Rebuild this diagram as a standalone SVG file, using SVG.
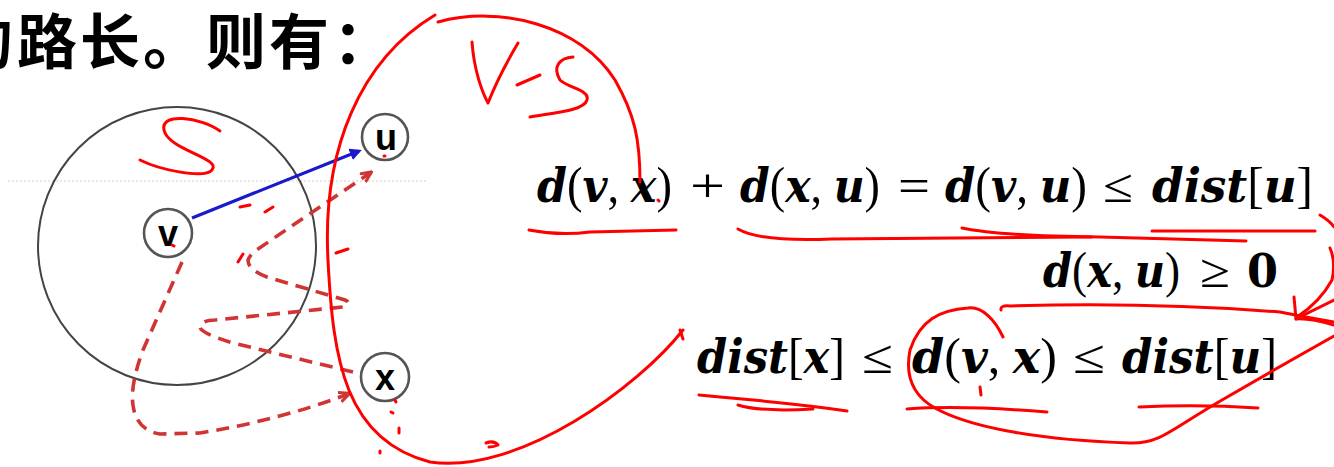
<svg xmlns="http://www.w3.org/2000/svg" width="1334" height="467" viewBox="0 0 1334 467">
<style>
.title{font-family:"Noto Sans CJK SC","Noto Sans",sans-serif;font-weight:700;font-size:60px;fill:#000}
.node circle{fill:#fff;stroke:#555;stroke-width:2.6}
.node text{font-family:"Liberation Sans",Arial,sans-serif;font-weight:700;font-size:36px;fill:#000;text-anchor:middle}
.dash{fill:none;stroke:#d03434;stroke-width:3.6;stroke-dasharray:13 8}
.ink{fill:none;stroke:#ff0000;stroke-width:3;stroke-linecap:round;stroke-linejoin:round}
.m{font-family:"DejaVu Serif","Liberation Serif",serif;font-size:46px;fill:#000;font-style:italic;font-weight:700}
.u{font-family:"Liberation Serif",serif;font-style:normal;font-weight:400;font-size:50px}
.num{font-style:normal}
.op{font-family:"Liberation Serif",serif;font-size:48px;fill:#000}
</style>
<defs>
<marker id="ab" markerWidth="12" markerHeight="12" refX="9" refY="6" orient="auto" markerUnits="userSpaceOnUse"><path d="M0,0 L12,6 L0,12 Z" fill="#1a1acc"/></marker>
<marker id="ar" markerWidth="12" markerHeight="12" refX="9" refY="6" orient="auto" markerUnits="userSpaceOnUse"><path d="M0,1 L11,6 L0,11" fill="none" stroke="#d03434" stroke-width="3"/></marker>
</defs>

<text class="title" x="-47 17 80 143 206 269 333" y="64">的路长。则有：</text>

<line x1="8" y1="181" x2="427" y2="181" stroke="#cfcfcf" stroke-width="1" stroke-dasharray="2 2"/>

<g id="set-S"><circle cx="177" cy="246" r="139" fill="none" stroke="#444" stroke-width="2"/></g>

<g id="connectors">
<line x1="192" y1="218" x2="359" y2="151" stroke="#1a1acc" stroke-width="3.2" marker-end="url(#ab)"/>
<path class="dash" d="M182,262 L143,350 Q130,385 133,405 Q136,430 160,434 L200,433 Q280,420 348,394" marker-end="url(#ar)"/>
<path class="dash" d="M353,372 L233,343 Q200,333 200,327 Q202,320 215,320 L343,307 Q352,303 345,300 L267,277 Q248,270 248,260 Q250,255 255,251 L370,173" marker-end="url(#ar)"/>
</g>

<g id="node-v" class="node"><circle cx="168" cy="233" r="24"/><text x="168" y="246">v</text></g>
<g id="node-u" class="node"><circle cx="385" cy="137" r="23"/><text x="386" y="150">u</text></g>
<g id="node-x" class="node"><circle cx="385" cy="377" r="24"/><text x="385" y="390">x</text></g>

<g id="formula-1">
<text class="m" x="537" y="202" textLength="135" lengthAdjust="spacingAndGlyphs">d<tspan class="u">(</tspan>v<tspan class="u">, </tspan>x<tspan class="u">)</tspan></text>
<text class="op" x="690" y="202" textLength="35" lengthAdjust="spacingAndGlyphs">+</text>
<text class="m" x="740" y="202" textLength="140" lengthAdjust="spacingAndGlyphs">d<tspan class="u">(</tspan>x<tspan class="u">, </tspan>u<tspan class="u">)</tspan></text>
<text class="op" x="898" y="202" textLength="32" lengthAdjust="spacingAndGlyphs">=</text>
<text class="m" x="945" y="202" textLength="142" lengthAdjust="spacingAndGlyphs">d<tspan class="u">(</tspan>v<tspan class="u">, </tspan>u<tspan class="u">)</tspan></text>
<text class="op" x="1103" y="202" textLength="30" lengthAdjust="spacingAndGlyphs">≤</text>
<text class="m" x="1152" y="202" textLength="161" lengthAdjust="spacingAndGlyphs">dist<tspan class="u">[</tspan>u<tspan class="u">]</tspan></text>
</g>
<g id="formula-2">
<text class="m" x="1043" y="287" textLength="137" lengthAdjust="spacingAndGlyphs">d<tspan class="u">(</tspan>x<tspan class="u">, </tspan>u<tspan class="u">)</tspan></text>
<text class="op" x="1200" y="287" textLength="30" lengthAdjust="spacingAndGlyphs">≥</text>
<text class="m num" x="1247" y="287" textLength="31" lengthAdjust="spacingAndGlyphs">0</text>
</g>
<g id="formula-3">
<text class="m" x="697" y="373" textLength="148" lengthAdjust="spacingAndGlyphs">dist<tspan class="u">[</tspan>x<tspan class="u">]</tspan></text>
<text class="op" x="862" y="373" textLength="31" lengthAdjust="spacingAndGlyphs">≤</text>
<text class="m" x="912" y="373" textLength="145" lengthAdjust="spacingAndGlyphs">d<tspan class="u">(</tspan>v<tspan class="u">, </tspan>x<tspan class="u">)</tspan></text>
<text class="op" x="1073" y="373" textLength="32" lengthAdjust="spacingAndGlyphs">≤</text>
<text class="m" x="1122" y="373" textLength="155" lengthAdjust="spacingAndGlyphs">dist<tspan class="u">[</tspan>u<tspan class="u">]</tspan></text>
</g>

<g id="annotations">
<path class="ink" d="M220,131 C200,117 160,112 164,130 C168,150 222,158 212,170 C204,179 160,170 140,160"/>
<path class="ink" d="M435,15 C360,60 322,150 328,260 C333,360 345,440 430,462 C520,475 640,385 683,330"/>
<path class="ink" d="M438,22 C500,5 580,25 615,80 C635,115 640,140 640,182"/>
<path class="ink" d="M472,42 C474,70 482,92 488,103 C495,85 508,60 518,43"/>
<path class="ink" d="M517,85 L540,75"/>
<path class="ink" d="M573,57 C560,58 552,66 560,80 C568,88 590,90 587,100 C584,110 560,112 530,117"/>
<path class="ink" d="M336,253 L348,249"/>
<path class="ink" d="M240,207 L250,205 M265,212 L273,207 M238,262 L243,254"/>
<path class="ink" d="M395,400 l1,2 M391,412 l2,1 M399,428 l0,5 M380,451 l0,2"/>
<path class="ink" d="M486,443 Q494,440 498,445 Q494,447 489,447"/>
<path class="ink" d="M384,156 l1,0 M172,245 l2,1 M658,200 l1,1"/>
<path class="ink" d="M529,230 Q560,236 590,232 L676,230"/>
<path class="ink" d="M738,229 Q760,242 832,239 L1092,237"/>
<path class="ink" d="M962,228 Q1000,236 1100,237 L1246,241"/>
<path class="ink" d="M1152,231 L1315,231"/>
<path class="ink" d="M1320,215 Q1330,221 1334,227"/>
<path class="ink" d="M1330,248 Q1336,262 1332,280 Q1320,302 1297,317"/>
<path class="ink" d="M1294,297 L1296,319"/>
<path class="ink" d="M1001,310 Q1000,305 1010,306 Q1150,302 1280,312 Q1310,318 1334,322"/>
<path class="ink" d="M1297,318 Q1310,312 1334,300"/>
<path class="ink" d="M1334,325 Q1310,318 1296,319"/>
<path class="ink" d="M699,395 L720,397 Q800,404 847,411"/>
<path class="ink" d="M738,405 Q760,412 813,409"/>
<path class="ink" d="M1003,337 C995,320 982,306 968,308 C940,310 920,320 910,350 C905,375 912,395 935,408 C965,425 1030,440 1130,443 C1160,444 1170,430 1222,400 C1260,378 1300,355 1334,336"/>
<path class="ink" d="M907,409 Q960,405 1047,412"/>
<path class="ink" d="M980,387 l1,8"/>
<path class="ink" d="M1139,407 Q1200,404 1258,408"/>
<path class="ink" d="M680,330 l3,9"/>
</g>
</svg>
